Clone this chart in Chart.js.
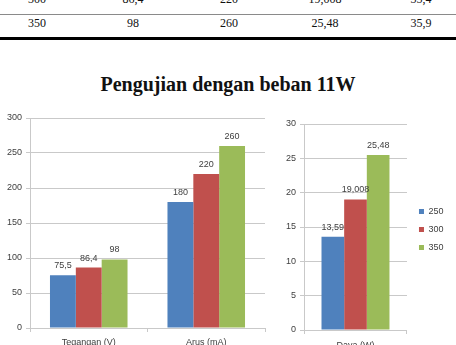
<!DOCTYPE html>
<html lang="id">
<head>
<meta charset="UTF-8" />
<title>Pengujian dengan beban 11W</title>
<script src="https://cdn.jsdelivr.net/npm/chart.js"></script>
<style>
    body { margin: 0; width: 456px; height: 345px; overflow: hidden; background: #fff; position: relative; font-family: 'Liberation Serif', serif; color: #111; }
    .row { position: absolute; left: 0; width: 456px; height: 16px; }
    .cell { position: absolute; top: 0; width: 96px; text-align: center; font-size: 12px; line-height: 16px; }
    #garis1 { position: absolute; left: 0; top: 14px; width: 456px; height: 1px; background: #8a8a8a; }
    #garis2 { position: absolute; left: 0; top: 37px; width: 456px; height: 3px; background: #000; }
    h1 { position: absolute; margin: 0; left: 0; width: 456px; top: 72px; text-align: center; font-size: 20px; line-height: 24px; font-weight: bold; }
    #wrapKiri { position: absolute; left: 0; top: 108px; }
    #wrapKanan { position: absolute; left: 272px; top: 108px; }
</style>
</head>
<body>
<div id="tabel"></div>
<div id="garis1"></div>
<div id="garis2"></div>
<h1>Pengujian dengan beban 11W</h1>
<div id="wrapKiri"><canvas id="chartKiri" width="272" height="237"></canvas></div>
<div id="wrapKanan"><canvas id="chartKanan" width="184" height="237"></canvas></div>

<script>
    // data
    const beban = ['250', '300', '350'];
    const kategoriKiri = ['Tegangan (V)', 'Arus (mA)'];
    const kategoriKanan = ['Daya (W)'];
    const tegangan = [75.5, 86.4, 98];
    const arus = [180, 220, 260];
    const daya = [13.59, 19.008, 25.48];
    const kolomAkhir = [null, 35.4, 35.9];
    const warna = ['#4F81BD', '#C0504D', '#9BBB59'];

    const koma = v => String(v).replace('.', ',');

    // potongan tabel di atas (baris 300 dan 350)
    const tabel = document.getElementById('tabel');
    [[1, -9], [2, 15]].forEach(([i, top]) => {
        const row = document.createElement('div');
        row.className = 'row';
        row.style.top = top + 'px';
        [beban[i], koma(tegangan[i]), koma(arus[i]), koma(daya[i]), koma(kolomAkhir[i])].forEach((t, k) => {
            const c = document.createElement('div');
            c.className = 'cell';
            c.style.left = (-11 + k * 96) + 'px';
            c.textContent = t;
            row.appendChild(c);
        });
        tabel.appendChild(row);
    });

    Chart.defaults.font.family = "'Liberation Sans', sans-serif";
    Chart.defaults.font.size = 9;
    Chart.defaults.color = '#404040';

    const labelNilai = {
        id: 'labelNilai',
        afterDatasetsDraw(chart) {
            const ctx = chart.ctx;
            ctx.save();
            ctx.font = "9px 'Liberation Sans', sans-serif";
            ctx.fillStyle = '#404040';
            ctx.textAlign = 'center';
            ctx.textBaseline = 'bottom';
            chart.data.datasets.forEach((ds, i) => {
                chart.getDatasetMeta(i).data.forEach((bar, j) => {
                    ctx.fillText(koma(ds.data[j]), bar.x, bar.y - 5);
                });
            });
            ctx.restore();
        }
    };

    // legenda sedikit ke kanan dan ke atas, seperti di gambar
    const geserLegenda = {
        id: 'geserLegenda',
        afterLayout(chart) {
            const lg = chart.legend;
            if (!lg) return;
            lg.left += 3; lg.right += 3;
            lg.top -= 5; lg.bottom -= 5;
        }
    };

    const abu = '#c9c9c9';

    function skala(max, step, lebarY, tinggiX, padX) {
        return {
            x: {
                grid: { drawOnChartArea: false, tickLength: 4, color: abu },
                border: { color: abu },
                ticks: { padding: padX },
                afterFit(s) { s.height = tinggiX; }
            },
            y: {
                min: 0, max: max,
                ticks: { stepSize: step, padding: 4 },
                grid: { color: abu, tickLength: 4 },
                border: { color: abu },
                afterFit(s) { s.width = lebarY; }
            }
        };
    }

    new Chart(document.getElementById('chartKiri'), {
        type: 'bar',
        data: {
            labels: kategoriKiri,
            datasets: beban.map((b, i) => ({
                label: b,
                data: [tegangan[i], arus[i]],
                backgroundColor: warna[i],
                categoryPercentage: 0.66,
                barPercentage: 1
            }))
        },
        options: {
            responsive: false,
            animation: false,
            layout: { padding: { top: 10, right: 7, left: 0, bottom: 0 } },
            plugins: { legend: { display: false }, tooltip: { enabled: false } },
            scales: skala(300, 50, 30, 17, 5)
        },
        plugins: [labelNilai]
    });

    new Chart(document.getElementById('chartKanan'), {
        type: 'bar',
        data: {
            labels: kategoriKanan,
            datasets: beban.map((b, i) => ({
                label: b,
                data: [daya[i]],
                backgroundColor: warna[i],
                categoryPercentage: 0.66,
                barPercentage: 1
            }))
        },
        options: {
            responsive: false,
            animation: false,
            layout: { padding: { top: 16, right: 5.5, left: 0, bottom: 0 } },
            plugins: {
                legend: {
                    position: 'right',
                    labels: { boxWidth: 5, boxHeight: 5, padding: 9, color: '#404040' }
                },
                tooltip: { enabled: false }
            },
            scales: skala(30, 5, 32, 15, 6)
        },
        plugins: [labelNilai, geserLegenda]
    });
</script>
</body>
</html>
